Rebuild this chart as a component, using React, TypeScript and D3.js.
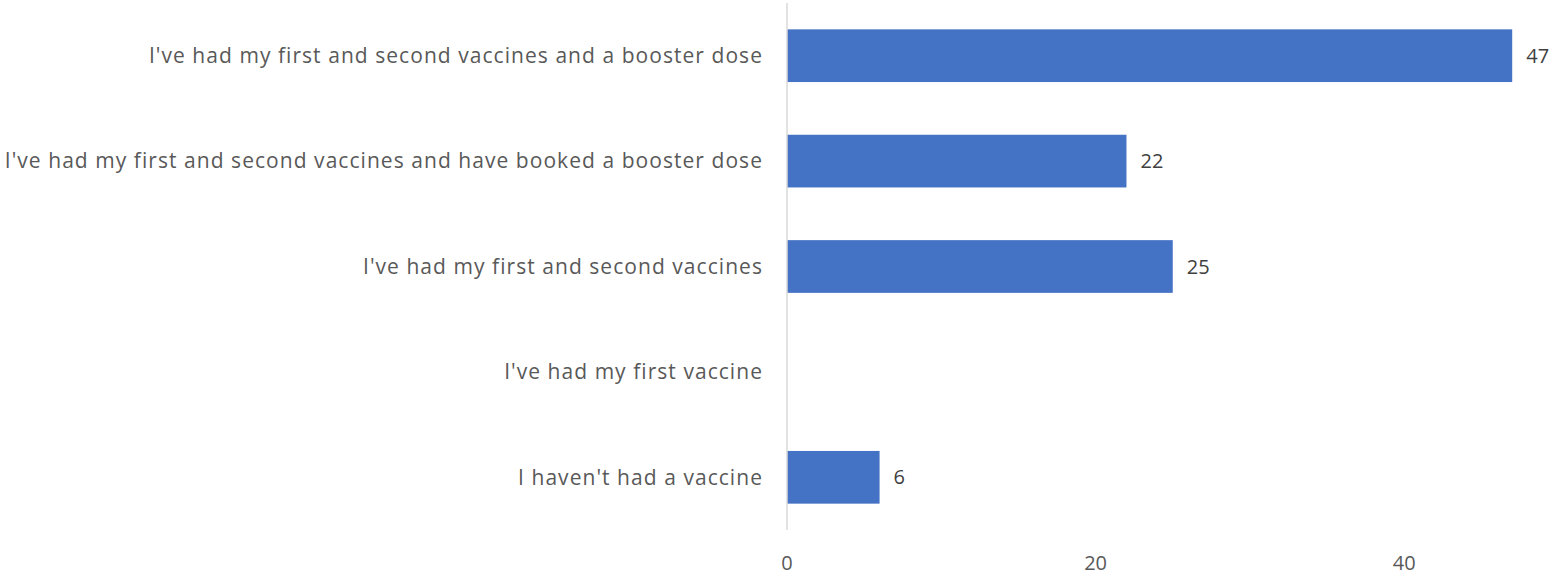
import React, { useRef, useEffect } from "react";
import * as d3 from "d3";

const categories = [
  "I've had my first and second vaccines and a booster dose",
  "I've had my first and second vaccines and have booked a booster dose",
  "I've had my first and second vaccines",
  "I've had my first vaccine",
  "I haven't had a vaccine",
];
const values = [47, 22, 25, 0, 6];
const xTicks = [0, 20, 40];

const App = () => {
  const ref = useRef<SVGSVGElement>(null);

  useEffect(() => {
    if (!ref.current) return;
    const svg = d3.select(ref.current);
    svg.selectAll("*").remove();

    const width = 1553;
    const height = 576;
    const font = "'Open Sans', 'Noto Sans', sans-serif";

    const x = d3.scaleLinear().domain([0, 50]).range([787, 787 + 771.5]);
    const y = d3.scaleBand<string>().domain(categories).range([3, 530]).paddingInner(0.5).paddingOuter(0.25);

    svg.attr("width", width).attr("height", height);
    svg.append("rect").attr("width", width).attr("height", height).attr("fill", "#fff");

    const rows = categories.map((c, i) => ({ c, v: values[i] }));

    // bars
    svg.selectAll("rect.bar")
      .data(rows.filter((d) => d.v > 0))
      .enter()
      .append("rect")
      .attr("class", "bar")
      .attr("x", x(0))
      .attr("y", (d) => y(d.c)!)
      .attr("width", (d) => x(d.v) - x(0))
      .attr("height", y.bandwidth())
      .attr("fill", "#4472c4");

    // vertical axis line
    svg.append("line")
      .attr("x1", x(0)).attr("x2", x(0))
      .attr("y1", 3).attr("y2", 530)
      .attr("stroke", "#d9d9d9")
      .attr("stroke-width", 1.5);

    // category labels
    svg.selectAll("text.cat")
      .data(categories)
      .enter()
      .append("text")
      .attr("class", "cat")
      .attr("x", x(0) - 24)
      .attr("y", (d) => y(d)! + y.bandwidth() / 2)
      .attr("dy", "0.35em")
      .attr("text-anchor", "end")
      .attr("font-family", font)
      .attr("font-size", 21)
      .attr("letter-spacing", 1.05)
      .attr("fill", "#595959")
      .text((d) => d);

    // value labels
    svg.selectAll("text.val")
      .data(rows.filter((d) => d.v > 0))
      .enter()
      .append("text")
      .attr("class", "val")
      .attr("x", (d) => x(d.v) + 14)
      .attr("y", (d) => y(d.c)! + y.bandwidth() / 2)
      .attr("dy", "0.35em")
      .attr("font-family", font)
      .attr("font-size", 20)
      .attr("fill", "#404040")
      .text((d) => d.v);

    // x tick labels
    svg.selectAll("text.tick")
      .data(xTicks)
      .enter()
      .append("text")
      .attr("class", "tick")
      .attr("x", (d) => x(d))
      .attr("y", 563)
      .attr("dy", "0.35em")
      .attr("text-anchor", "middle")
      .attr("font-family", font)
      .attr("font-size", 20)
      .attr("fill", "#595959")
      .text((d) => d);
  }, []);

  return <svg ref={ref} style={{ position: "absolute", left: 0, top: 0, display: "block" }}></svg>;
};

export default App;
